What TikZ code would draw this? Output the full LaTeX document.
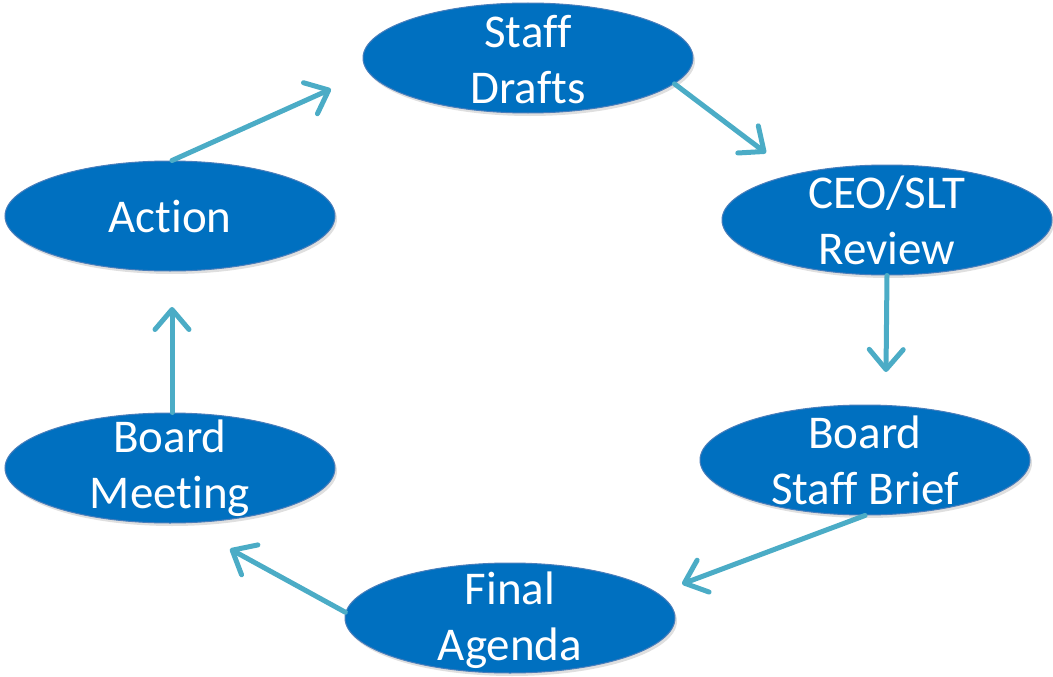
\documentclass[tikz,border=0pt]{standalone}
\usepackage{fontspec}
\setmainfont[Ligatures=NoCommon,RawFeature=-liga]{Carlito}
\usetikzlibrary{arrows.meta,shapes.geometric,shadows}
\definecolor{ellfill}{HTML}{0070C0}
\definecolor{elldraw}{HTML}{4A7EBB}
\definecolor{arrcol}{HTML}{4BACC6}
\tikzset{
  stage/.style={ellipse, fill=ellfill, draw=elldraw, line width=1pt, minimum width=330pt, minimum height=110pt, inner sep=0pt,
    drop shadow={shadow xshift=2pt, shadow yshift=-3pt, opacity=0.25}},
  stagetext/.style={text=white, align=center, font=\fontsize{47pt}{56pt}\selectfont, inner sep=0pt},
  flow/.style={draw=arrcol, line width=5pt, line cap=round, -{Straight Barb[length=20pt,width=34pt,line cap=round,line join=round]}}
}
\begin{document}
\begin{tikzpicture}[x=1pt,y=-1pt]
\useasboundingbox (0,0) rectangle (1053,677);
\node[stage] (sd) at (528,58) {};
\node[stagetext] (sdt) at (528,60) {Staff\\Drafts};
\node[stage] (ceo) at (887,220) {};
\node[stagetext] (ceot) at (887,220) {CEO/SLT\\Review};
\node[stage] (bsb) at (865,460) {};
\node[stagetext] (bsbt) at (865,460) {Board\\Staff Brief};
\node[stage] (fa) at (510,618) {};
\node[stagetext] (fat) at (510,620) {Final\\Agenda};
\node[stage] (bm) at (170,468) {};
\node[stagetext] (bmt) at (170,468) {Board\\Meeting};
\node[stage] (ac) at (170,216) {};
\node[stagetext] (act) at (170,217) {Action};
\coordinate (e1) at (331,89);
\coordinate (e2) at (766,153);
\coordinate (e3) at (886,372);
\coordinate (e4) at (682,584);
\coordinate (e5) at (230,549);
\coordinate (e6) at (172,307);
\draw[flow] ([xshift=2pt]ac.north) -- (e1);
\draw[flow] (sd.-10) -- (e2);
\draw[flow] (ceo.south) -- (e3);
\draw[flow] (bsb.south) -- (e4);
\draw[flow] (fa.178) -- (e5);
\draw[flow] ([xshift=2pt]bm.north) -- (e6);
\end{tikzpicture}
\end{document}
